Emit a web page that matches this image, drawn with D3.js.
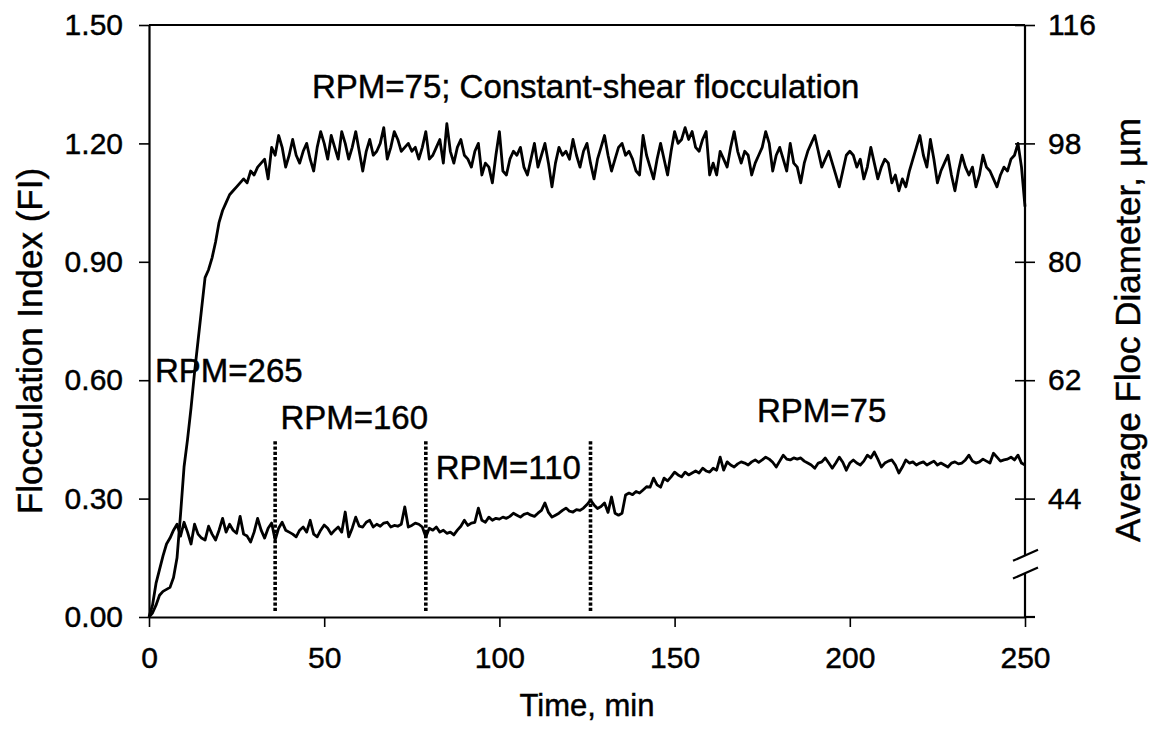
<!DOCTYPE html>
<html>
<head>
<meta charset="utf-8">
<script src="https://cdn.jsdelivr.net/npm/d3@7"></script>
<style>
  html, body { margin: 0; padding: 0; background: #fff; }
  svg { display: block; font-family: "Liberation Sans", Arial, sans-serif; }
</style>
</head>
<body>
<svg id="chart" width="1154" height="736"></svg>
<script>
// Sampling times, one reading per minute (0 .. 250 min)
const timeMin = d3.range(0, 251);

// Constant-shear run (RPM = 75), flocculation index
const fiConstant = [
  0.00, 0.01, 0.03, 0.055, 0.065, 0.07, 0.075, 0.10, 0.15, 0.26,
  0.38, 0.45, 0.53, 0.62, 0.70, 0.78, 0.86, 0.88, 0.91, 0.95,
  1.00, 1.03, 1.05, 1.07, 1.08, 1.09, 1.10, 1.11, 1.10, 1.13,
  1.12, 1.14, 1.15, 1.16, 1.11, 1.19, 1.17, 1.22, 1.19, 1.14,
  1.17, 1.21, 1.17, 1.15, 1.18, 1.20, 1.16, 1.13, 1.19, 1.23,
  1.20, 1.16, 1.22, 1.19, 1.16, 1.23, 1.20, 1.16, 1.19, 1.23,
  1.18, 1.13, 1.18, 1.21, 1.17, 1.18, 1.20, 1.24, 1.16, 1.19,
  1.23, 1.21, 1.18, 1.19, 1.20, 1.18, 1.19, 1.16, 1.19, 1.23,
  1.16, 1.17, 1.19, 1.21, 1.15, 1.25, 1.18, 1.15, 1.19, 1.21,
  1.17, 1.16, 1.14, 1.18, 1.20, 1.12, 1.15, 1.14, 1.10, 1.17,
  1.23, 1.13, 1.12, 1.16, 1.18, 1.17, 1.19, 1.14, 1.12, 1.16,
  1.20, 1.14, 1.17, 1.20, 1.15, 1.09, 1.15, 1.19, 1.17, 1.18,
  1.16, 1.21, 1.17, 1.14, 1.18, 1.20, 1.15, 1.11, 1.16, 1.19,
  1.22, 1.17, 1.13, 1.16, 1.19, 1.20, 1.17, 1.18, 1.16, 1.13,
  1.12, 1.22, 1.17, 1.14, 1.11, 1.16, 1.20, 1.16, 1.12, 1.18,
  1.23, 1.20, 1.21, 1.24, 1.21, 1.23, 1.19, 1.18, 1.21, 1.23,
  1.12, 1.15, 1.12, 1.18, 1.16, 1.14, 1.19, 1.23, 1.18, 1.15,
  1.18, 1.17, 1.12, 1.15, 1.17, 1.19, 1.23, 1.20, 1.13, 1.17,
  1.19, 1.16, 1.13, 1.20, 1.15, 1.14, 1.10, 1.15, 1.18, 1.20,
  1.22, 1.18, 1.14, 1.16, 1.18, 1.15, 1.12, 1.09, 1.13, 1.17,
  1.18, 1.17, 1.14, 1.16, 1.11, 1.14, 1.19, 1.15, 1.11, 1.14,
  1.16, 1.15, 1.10, 1.12, 1.08, 1.11, 1.09, 1.13, 1.16, 1.19,
  1.22, 1.17, 1.14, 1.21, 1.16, 1.10, 1.13, 1.15, 1.17, 1.12,
  1.08, 1.13, 1.17, 1.14, 1.12, 1.14, 1.09, 1.12, 1.17, 1.14,
  1.13, 1.11, 1.09, 1.12, 1.14, 1.13, 1.16, 1.17, 1.20, 1.14,
  1.04
];

// Stepped-shear run (265 -> 160 -> 110 -> 75 RPM), flocculation index
const fiStepped = [
  0.00, 0.03, 0.085, 0.12, 0.155, 0.185, 0.20, 0.22, 0.235, 0.205,
  0.24, 0.215, 0.185, 0.235, 0.21, 0.20, 0.195, 0.23, 0.21, 0.195,
  0.22, 0.25, 0.215, 0.235, 0.22, 0.212, 0.255, 0.21, 0.205, 0.19,
  0.215, 0.25, 0.22, 0.20, 0.225, 0.238, 0.195, 0.225, 0.24, 0.22,
  0.215, 0.21, 0.203, 0.22, 0.228, 0.215, 0.245, 0.21, 0.203, 0.22,
  0.233, 0.225, 0.21, 0.22, 0.228, 0.215, 0.266, 0.203, 0.225, 0.253,
  0.23, 0.228, 0.24, 0.245, 0.228, 0.235, 0.23, 0.238, 0.24, 0.228,
  0.232, 0.23, 0.235, 0.279, 0.228, 0.232, 0.238, 0.235, 0.228, 0.203,
  0.225, 0.22, 0.228, 0.215, 0.22, 0.212, 0.215, 0.208, 0.22, 0.23,
  0.245, 0.232, 0.238, 0.24, 0.276, 0.245, 0.24, 0.253, 0.245, 0.25,
  0.248, 0.253, 0.25, 0.255, 0.263, 0.258, 0.253, 0.26, 0.263, 0.258,
  0.255, 0.263, 0.27, 0.289, 0.265, 0.253, 0.258, 0.263, 0.27, 0.276,
  0.268, 0.266, 0.272, 0.27, 0.276, 0.285, 0.296, 0.284, 0.275, 0.28,
  0.289, 0.265, 0.304, 0.263, 0.258, 0.263, 0.309, 0.314, 0.31, 0.318,
  0.314, 0.322, 0.33, 0.329, 0.352, 0.335, 0.329, 0.352, 0.345, 0.355,
  0.367, 0.36, 0.355, 0.367, 0.36, 0.365, 0.37, 0.365, 0.377, 0.37,
  0.367, 0.377, 0.372, 0.405, 0.372, 0.393, 0.385, 0.38, 0.388, 0.393,
  0.39, 0.385, 0.393, 0.398, 0.392, 0.398, 0.405, 0.40, 0.392, 0.38,
  0.395, 0.41, 0.40, 0.398, 0.403, 0.40, 0.403, 0.395, 0.39, 0.385,
  0.377, 0.39, 0.393, 0.403, 0.39, 0.377, 0.39, 0.405, 0.392, 0.372,
  0.39, 0.398, 0.39, 0.385, 0.395, 0.41, 0.403, 0.418, 0.40, 0.38,
  0.39, 0.395, 0.398, 0.385, 0.365, 0.38, 0.398, 0.39, 0.393, 0.385,
  0.39, 0.393, 0.385, 0.39, 0.395, 0.385, 0.39, 0.385, 0.38, 0.39,
  0.393, 0.388, 0.39, 0.398, 0.41, 0.395, 0.39, 0.393, 0.40, 0.395,
  0.39, 0.415, 0.405, 0.395, 0.398, 0.40, 0.405, 0.398, 0.41, 0.39,
  0.385
];

// Times (min) at which the mixer speed was stepped down
const shearSteps = [36, 79, 126];
const stepLineRange = [0.015, 0.445];   // FI extent of the marker lines

// Axis ticks
const xTicks = [0, 50, 100, 150, 200, 250];
const yTicks = [0.00, 0.30, 0.60, 0.90, 1.20, 1.50];
const diamTicks = [44, 62, 80, 98, 116];
const diamBreak = [32.6, 35.3];          // gap in the diameter axis (µm)

// Annotations: [text, time, FI at baseline]
const notes = [
  ["RPM=75; Constant-shear flocculation", 46.5, 1.315],
  ["RPM=265", 1.7, 0.595],
  ["RPM=160", 37.5, 0.477],
  ["RPM=110", 81.8, 0.350],
  ["RPM=75", 173.5, 0.495]
];

const svg = d3.select("#chart");
const plotLeft = 149, plotRight = 1025, plotTop = 25, plotBottom = 617;

const x = d3.scaleLinear().domain([0, 250]).range([plotLeft, plotRight]);
const y = d3.scaleLinear().domain([0, 1.5]).range([plotBottom, plotTop]);
const yDiam = d3.scaleLinear().domain([26, 116]).range([plotBottom, plotTop]);

const ink = "#000";
const fontFamily = "Liberation Sans, Arial, sans-serif";
const textHalo = 0.45;   // thin outline gives the lettering a heavier weight

function styleText(sel, size) {
  sel.attr("font-size", size).attr("fill", ink).attr("font-family", fontFamily)
    .attr("stroke", ink).attr("stroke-width", textHalo);
}

// Frame top edge
svg.append("line")
  .attr("x1", plotLeft).attr("x2", plotRight)
  .attr("y1", y(1.5)).attr("y2", y(1.5))
  .attr("stroke", ink).attr("stroke-width", 2.2);

// Bottom axis
const gx = svg.append("g")
  .attr("transform", `translate(0,${plotBottom})`)
  .call(d3.axisBottom(x).tickValues(xTicks).tickSizeInner(10).tickSizeOuter(0).tickPadding(20));
gx.select(".domain").attr("stroke-width", 2.2);
gx.selectAll(".tick line").attr("stroke-width", 1.6);
styleText(gx.selectAll("text"), 30);

// short run of the baseline past the right axis
svg.append("line")
  .attr("x1", plotRight).attr("x2", plotRight + 10)
  .attr("y1", plotBottom).attr("y2", plotBottom)
  .attr("stroke", ink).attr("stroke-width", 2.2);

// Left axis (flocculation index)
const gy = svg.append("g")
  .attr("transform", `translate(${plotLeft},0)`)
  .call(d3.axisLeft(y).tickValues(yTicks).tickFormat(d3.format(".2f"))
    .tickSizeInner(10).tickSizeOuter(0).tickPadding(16));
gy.select(".domain").attr("stroke-width", 2.2);
gy.selectAll(".tick line").attr("stroke-width", 1.6);
styleText(gy.selectAll("text"), 30);

// Right axis (average floc diameter) with crossing ticks and a break
const gr = svg.append("g")
  .attr("transform", `translate(${plotRight},0)`)
  .call(d3.axisRight(yDiam).tickValues(diamTicks).tickSizeInner(10).tickSizeOuter(0).tickPadding(13));
gr.select(".domain").remove();
gr.selectAll(".tick line").attr("x1", -10).attr("stroke-width", 1.6);
styleText(gr.selectAll("text"), 30);

gr.append("line")
  .attr("x1", 0).attr("x2", 0)
  .attr("y1", yDiam(116)).attr("y2", yDiam(diamBreak[1]))
  .attr("stroke", ink).attr("stroke-width", 2.2);
gr.append("line")
  .attr("x1", 0).attr("x2", 0)
  .attr("y1", yDiam(diamBreak[0])).attr("y2", plotBottom)
  .attr("stroke", ink).attr("stroke-width", 2.2);
diamBreak.forEach(v => {
  gr.append("line")
    .attr("x1", -12).attr("x2", 13)
    .attr("y1", yDiam(v) + 5).attr("y2", yDiam(v) - 6)
    .attr("stroke", ink).attr("stroke-width", 2.2);
});

// Shear-step markers
svg.append("g").selectAll("line")
  .data(shearSteps).join("line")
  .attr("x1", d => x(d)).attr("x2", d => x(d))
  .attr("y1", y(stepLineRange[1])).attr("y2", y(stepLineRange[0]))
  .attr("stroke", ink).attr("stroke-width", 3.6)
  .attr("stroke-dasharray", "3.2,2");

// Curves
const line = d3.line()
  .x((d, i) => x(timeMin[i]))
  .y(d => y(d));

[fiConstant, fiStepped].forEach(series => {
  svg.append("path")
    .datum(series)
    .attr("d", line)
    .attr("fill", "none")
    .attr("stroke", ink)
    .attr("stroke-width", 2.8)
    .attr("stroke-linejoin", "round");
});

// Annotations
styleText(svg.append("g").selectAll("text")
  .data(notes).join("text")
  .attr("x", d => x(d[1]))
  .attr("y", d => y(d[2]))
  .text(d => d[0]), 33);

// Axis titles
styleText(svg.append("text")
  .attr("x", (plotLeft + plotRight) / 2).attr("y", 716)
  .attr("text-anchor", "middle")
  .text("Time, min"), 31);

styleText(svg.append("text")
  .attr("transform", "translate(42,341) rotate(-90)")
  .attr("text-anchor", "middle")
  .text("Flocculation Index (FI)"), 35);

styleText(svg.append("text")
  .attr("transform", "translate(1140,330) rotate(-90)")
  .attr("text-anchor", "middle")
  .text("Average Floc Diameter, \u00b5m"), 35);
</script>
</body>
</html>
